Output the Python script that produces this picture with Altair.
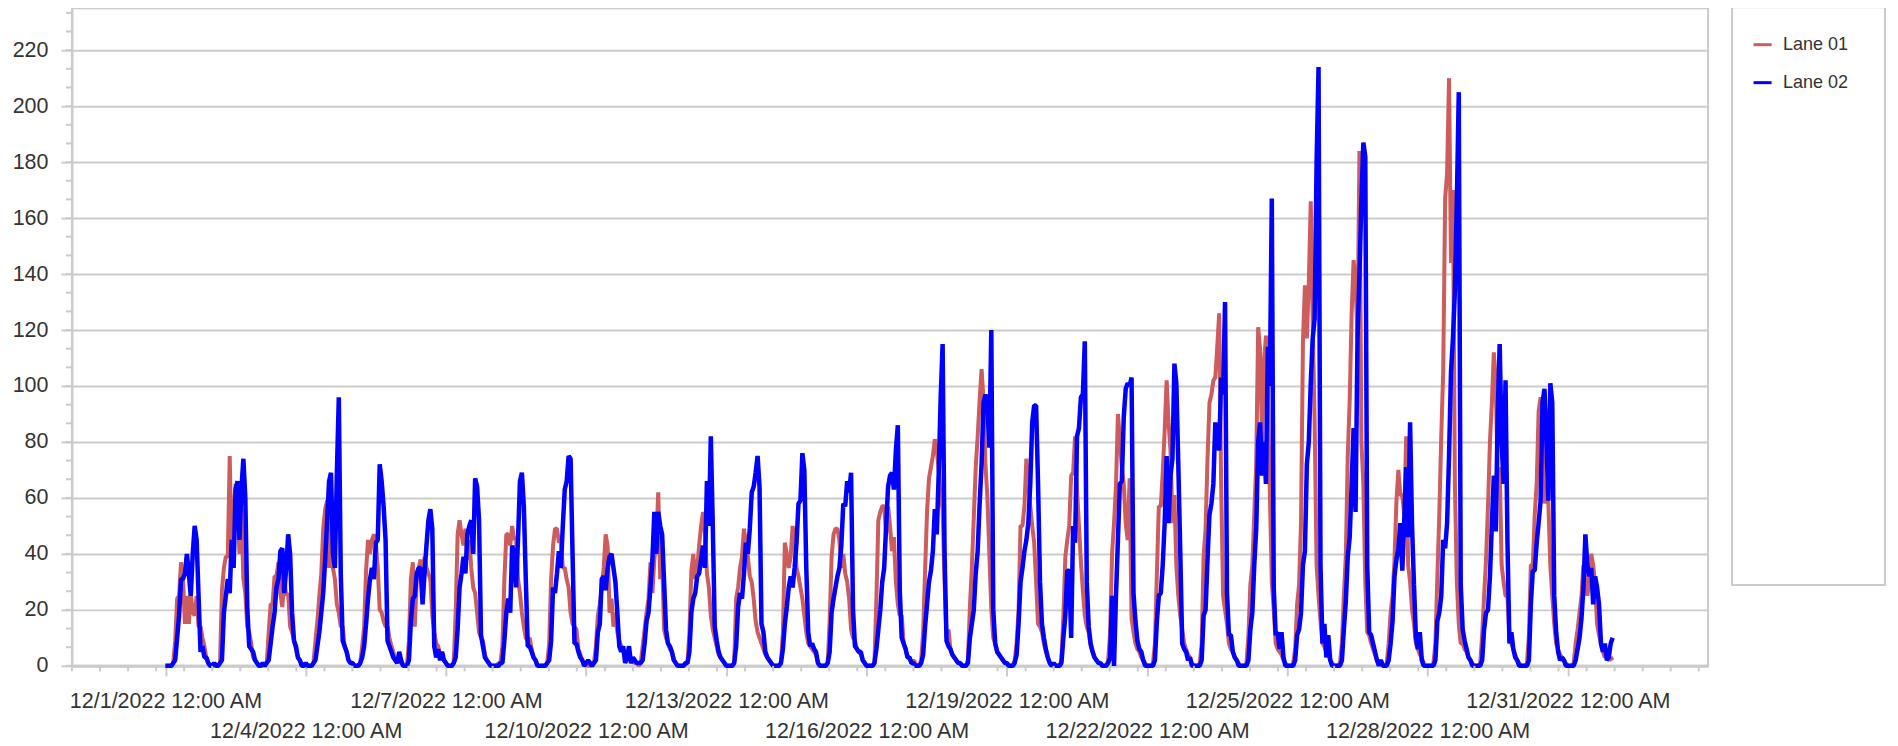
import altair as alt
import pandas as pd

LANES = ["Lane 01", "Lane 02"]
COLORS = ["#CD5C5C", "#0000FF"]
YEAR, MONTH = 2022, 12
DAYS = list(range(1, 32))
HOURS = list(range(24))

# Hourly volumes, one list of 24 hours per day of December 2022
LANE_01 = [
    [0,0,0,0,1, 9,24,25,37,31, 15,25,15,26,19, 18,25,14,14,10, 7,3,1,0],
    [0,1,0,0,1, 27,35,39,39,75, 38,55,65,59,40, 56,31,26,14,12, 8,3,2,1],
    [0,0,1,0,1, 12,22,22,32,32, 37,26,21,31,25, 26,14,12,9,6, 3,2,0,0],
    [1,0,0,0,1, 9,16,25,33,49, 56,59,35,55,35, 31,22,19,14,14, 7,5,2,1],
    [1,0,0,0,1, 7,14,34,45,40, 45,47,44,35,20, 19,16,14,14,10, 7,5,2,1],
    [3,1,0,0,0, 9,31,37,14,31, 35,38,27,39,35, 33,31,18,12,8, 7,4,3,2],
    [1,0,0,0,1, 19,47,52,47,43, 49,38,45,35,28, 26,19,12,10,9, 4,2,1,0],
    [0,0,0,1,1, 7,31,47,47,43, 50,45,46,31,26, 19,14,10,9,10, 6,3,2,0],
    [0,0,0,0,1, 8,31,43,49,49, 44,45,35,35,31, 28,19,15,14,13, 6,4,2,0],
    [1,0,0,1,1, 7,18,22,28,35, 47,43,19,24,14, 19,12,9,7,6, 3,2,5,1],
    [2,1,1,0,1, 7,13,19,24,37, 26,38,45,62,31, 38,13,10,8,6, 5,2,1,0],
    [0,0,0,1,1, 12,34,40,31,35, 43,50,55,47,33, 28,18,13,10,7, 4,3,2,1],
    [0,0,0,0,1, 24,28,35,39,49, 44,39,32,30,24, 16,12,10,8,6, 4,3,2,1],
    [0,0,0,0,1, 12,44,40,35,39, 50,45,35,32,28, 24,18,12,8,7, 6,5,4,1],
    [0,0,0,0,1, 16,39,47,49,49, 45,35,40,33,30, 24,13,10,9,6, 5,4,2,1],
    [0,0,0,0,1, 24,52,55,57,57, 47,57,50,41,46, 30,22,18,18,8, 6,3,3,1],
    [2,1,0,0,2, 12,34,55,67,71, 75,81,77,70,60, 56,30,10,13,6, 4,3,2,1],
    [1,0,0,0,2, 21,35,53,71,82, 95,106,95,72,60, 40,20,10,8,5, 4,3,2,1],
    [1,0,0,0,2, 8,20,50,50,57, 74,65,57,50,44, 30,15,14,12,8, 5,3,1,0],
    [1,0,0,0,2, 18,39,45,50,68, 69,82,63,50,37, 27,18,14,12,7, 5,3,2,1],
    [1,0,0,0,2, 12,40,51,64,90, 81,71,65,51,45, 67,17,12,8,6, 5,3,2,1],
    [0,0,0,1,8, 33,57,57,69,84, 102,87,77,51,61, 36,25,18,13,8, 6,4,3,1],
    [0,0,0,1,8, 39,49,74,94,97, 102,103,114,126,65, 25,20,15,8,6, 5,3,2,1],
    [0,0,0,1,11, 29,36,54,72,121, 113,80,108,118,98, 62,30,20,8,6, 5,4,2,1],
    [0,0,0,1,6, 22,29,51,116,136, 117,137,166,123,87, 36,25,16,8,7, 5,4,2,1],
    [0,0,0,1,8, 25,39,75,95,126, 145,137,117,184,80, 65,30,12,11,8, 6,4,2,1],
    [2,0,0,1,8, 19,25,38,59,70, 61,61,54,82,36, 30,20,15,8,6, 4,3,1,0],
    [0,0,0,1,8, 32,54,82,105,167, 176,210,144,170,65, 30,15,8,8,6, 5,3,2,1],
    [0,0,0,1,11, 25,38,57,80,94, 112,101,65,71,36, 30,25,25,11,8, 6,4,2,1],
    [0,0,0,1,11, 36,36,54,65,91, 96,80,58,65,58, 36,25,15,8,6, 4,3,2,1],
    [0,0,0,1,8, 13,19,25,36,31, 25,31,40,36,29, 15,11,8,5,3, 5,2,3,2],
]

LANE_02 = [
    [0,0,0,0,1, 2,10,18,31,31, 33,40,33,25,40, 50,45,25,5,7, 3,3,1,0],
    [0,1,0,0,1, 2,19,25,31,26, 45,35,63,66,45, 63,74,60,21,7, 6,5,2,1],
    [0,0,1,0,1, 2,8,14,19,28, 31,41,42,26,35, 47,40,19,9,7, 3,2,0,0],
    [1,0,0,0,1, 2,7,12,19,26, 38,52,66,69,40, 35,69,96,33,9, 7,5,2,1],
    [1,0,0,0,1, 3,7,15,24,31, 35,31,44,45,72, 66,57,45,9,7, 5,3,2,1],
    [5,2,0,0,0, 2,16,24,25,33, 35,35,22,33,43, 52,56,49,7,3, 6,2,5,2],
    [1,0,0,0,1, 3,13,28,33,39, 33,47,50,52,40, 67,64,52,11,7, 3,2,1,0],
    [0,0,0,0,1, 1,9,19,24,19, 43,40,28,45,66, 69,57,31,7,7, 5,3,2,0],
    [0,0,0,0,1, 2,9,28,26,33, 41,35,50,63,66, 75,74,40,8,8, 5,3,2,0],
    [1,2,1,0,1, 2,12,15,31,32, 27,35,39,40,35, 30,19,7,5,7, 1,3,7,1],
    [3,2,1,1,1, 2,8,16,19,28, 38,55,40,55,50, 47,30,13,8,7, 5,2,1,0],
    [0,0,0,1,1, 5,19,24,26,32, 33,38,43,35,66, 50,82,50,14,9, 5,3,2,1],
    [0,0,0,0,1, 7,21,26,24,33, 44,40,49,62,64, 69,75,64,15,12, 5,3,2,1],
    [0,0,0,0,1, 6,15,21,28,32, 28,35,44,58,59, 76,70,35,12,7, 8,6,5,1],
    [0,0,0,0,1, 5,19,24,28,32, 35,43,58,57,66, 62,69,20,7,6, 5,5,2,1],
    [0,0,0,0,1, 6,13,20,30,35, 50,64,68,69,63, 77,86,27,10,8, 6,3,3,1],
    [1,0,0,0,1, 4,14,22,30,34, 41,56,47,69,96, 115,40,9,7,6, 4,3,2,1],
    [1,0,0,0,1, 10,15,20,33,41, 58,72,94,97,93, 78,120,20,8,5, 4,3,2,1],
    [1,0,0,0,1, 4,15,30,35,41, 45,51,65,87,93, 93,65,30,15,10, 6,3,1,0],
    [1,0,0,0,1, 10,18,34,34,10, 50,44,82,85,96, 97,116,30,14,8, 5,3,2,1],
    [1,0,0,0,1, 3,25,0,25,45, 65,66,89,99,101, 100,103,26,16,9, 6,5,2,0],
    [0,0,0,0,2, 16,25,26,36,51, 75,51,68,74,108, 101,72,41,8,6, 5,2,3,0],
    [0,0,0,0,2, 18,20,38,54,58, 65,87,80,77,103, 97,130,26,11,11, 5,3,2,0],
    [0,0,0,0,2, 13,19,36,49,80, 87,68,80,65,114, 100,167,28,11,12, 6,12,3,0],
    [0,0,0,0,2, 11,13,19,36,41, 72,80,101,117,124, 180,214,36,8,15, 3,11,2,0],
    [0,0,0,0,2, 13,23,39,46,65, 85,55,117,140,166, 187,182,36,12,11, 8,5,2,0],
    [2,0,0,0,2, 8,16,32,38,42, 51,34,52,71,46, 87,50,29,10,6, 12,2,0,0],
    [0,0,0,0,2, 16,19,25,45,42, 51,75,105,117,134, 166,205,29,13,9, 6,3,2,0],
    [0,0,0,0,2, 13,19,20,32,51, 68,48,91,115,80, 65,102,44,8,12, 6,3,2,0],
    [0,0,0,0,2, 22,34,34,44,51, 59,94,99,80,59, 101,94,25,12,5, 2,3,2,0],
    [0,0,0,0,2, 6,10,17,28,47, 36,32,35,22,32, 28,22,8,5,8, 2,3,8,10],
]

TICK_DATES = ["2022-12-01", "2022-12-04", "2022-12-07", "2022-12-10", "2022-12-13",
              "2022-12-16", "2022-12-19", "2022-12-22", "2022-12-25", "2022-12-28",
              "2022-12-31"]
TICK_LABELS = ["12/1/2022 12:00 AM", "12/4/2022 12:00 AM", "12/7/2022 12:00 AM",
               "12/10/2022 12:00 AM", "12/13/2022 12:00 AM", "12/16/2022 12:00 AM",
               "12/19/2022 12:00 AM", "12/22/2022 12:00 AM", "12/25/2022 12:00 AM",
               "12/28/2022 12:00 AM", "12/31/2022 12:00 AM"]
Y_TICKS = [0, 20, 40, 60, 80, 100, 120, 140, 160, 180, 200, 220]
X_START, X_END = "2022-11-29", "2023-01-03"
Y_MAX = 235

assert all(len(d) == 24 for d in LANE_01) and len(LANE_01) == 31
assert all(len(d) == 24 for d in LANE_02) and len(LANE_02) == 31

rows = []
for lane, series in zip(LANES, [LANE_01, LANE_02]):
    for d, day_vals in zip(DAYS, series):
        for h, v in zip(HOURS, day_vals):
            rows.append({"time": f"{YEAR}-{MONTH:02d}-{d:02d}T{h:02d}:00:00",
                         "lane": lane, "count": v})
df = pd.DataFrame(rows)


def to_dt(s):
    y, m, d = (int(p) for p in s.split("-"))
    return alt.DateTime(year=y, month=m, date=d)


label_expr = "''"
for i in reversed(range(len(TICK_DATES))):
    lab = TICK_LABELS[i]
    txt = f"['', '{lab}']" if i % 2 == 1 else f"'{lab}'"
    label_expr = (f"timeFormat(datum.value, '%Y-%m-%d') == '{TICK_DATES[i]}' "
                  f"? {txt} : ({label_expr})")

GRID = "#cbcbcb"
TEXT = "#333333"
FONT = "Liberation Sans"
W, H = 1637, 658

xscale = alt.Scale(domain=[to_dt(X_START), to_dt(X_END)], nice=False)
yscale = alt.Scale(domain=[0, Y_MAX], nice=False)

xaxis = alt.Axis(title=None, values=[to_dt(s) for s in TICK_DATES], labelExpr=label_expr,
                 labelOverlap=False, labelFlush=False, labelBound=False, labelAngle=0,
                 labelLimit=600,
                 labelFont=FONT, labelFontSize=21.5, labelColor=TEXT, labelPadding=15,
                 labelLineHeight=30, tickSize=10, tickColor=GRID, tickWidth=2,
                 domainColor=GRID, domainWidth=3, grid=False)
yaxis = alt.Axis(title=None, values=Y_TICKS, labelFont=FONT, labelFontSize=21.5,
                 labelColor=TEXT, labelPadding=13, tickSize=11, tickColor=GRID,
                 tickWidth=2, domainColor=GRID, domainWidth=2, grid=True,
                 gridColor=GRID, gridWidth=2)
legend = alt.Legend(title=None, orient="none", direction="vertical", legendX=1681,
                    legendY=26, symbolType="stroke", symbolSize=324,
                    symbolStrokeWidth=3, labelFont=FONT, labelFontSize=18,
                    labelColor=TEXT, labelOffset=10, rowPadding=18, padding=0)
color = alt.Color("lane:N", scale=alt.Scale(domain=LANES, range=COLORS), legend=legend)

X = alt.X("time:T", scale=xscale, axis=xaxis)
Y = alt.Y("count:Q", scale=yscale, axis=yaxis)

lines = alt.Chart(df)
red = lines.mark_line(strokeWidth=4, strokeJoin="bevel").encode(
    x=X, y=Y, color=color,
).transform_filter(alt.datum.lane == LANES[0])
blue = lines.mark_line(strokeWidth=4.5, strokeJoin="bevel").encode(
    x=X, y=Y, color=color,
).transform_filter(alt.datum.lane == LANES[1])

minor_x = pd.DataFrame({"time": pd.date_range(X_START, X_END, freq="864min")
                        .strftime("%Y-%m-%dT%H:%M:%S")})
minor_y = pd.DataFrame({"count": [k * 20 / 3 for k in range(36) if k * 20 / 3 <= Y_MAX]})

xminor = alt.Chart(minor_x).mark_rule(color=GRID, strokeWidth=2).encode(
    x=X, y=alt.value(H), y2=alt.value(H + 5.5))
yminor = alt.Chart(minor_y).mark_rule(color=GRID, strokeWidth=2).encode(
    y=Y, x=alt.value(-6), x2=alt.value(0))

legend_box = alt.Chart(pd.DataFrame({"box": [0]})).mark_rect(
    fill="white", stroke=GRID, strokeWidth=2).encode(
    x=alt.value(1661), x2=alt.value(1814), y=alt.value(-1), y2=alt.value(577))

chart = alt.layer(red, blue, xminor, yminor, legend_box).properties(
    width=W, height=H,
    autosize=alt.AutoSizeParams(type="none"),
    padding={"left": 64, "top": 0, "right": 182, "bottom": 78},
    background="white",
).configure_view(stroke=GRID, strokeWidth=2)

chart.save("out.html", embed_options={"renderer": "svg", "actions": False})
